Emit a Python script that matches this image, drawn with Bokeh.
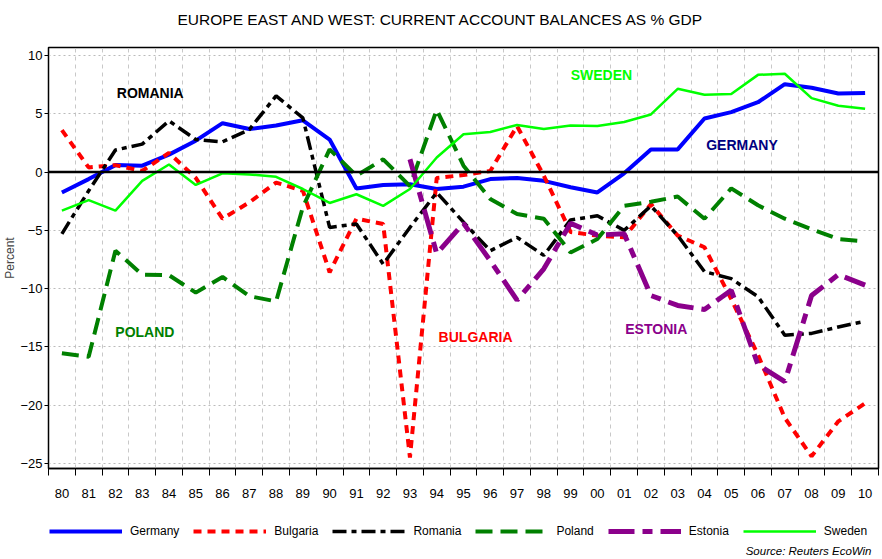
from bokeh.plotting import figure
from bokeh.layouts import column
from bokeh.models import (Range1d, FixedTicker, Span, Label, Legend, LegendItem)
from bokeh.embed import file_html
from bokeh.resources import INLINE

years = list(range(1980, 2011))
year_labels = ["80", "81", "82", "83", "84", "85", "86", "87", "88", "89",
               "90", "91", "92", "93", "94", "95", "96", "97", "98", "99",
               "00", "01", "02", "03", "04", "05", "06", "07", "08", "09", "10"]

germany = [-1.75, -0.6, 0.6, 0.55, 1.5, 2.7, 4.2, 3.7, 4.0, 4.45,
           2.8, -1.4, -1.1, -1.05, -1.45, -1.25, -0.6, -0.5, -0.75, -1.3,
           -1.75, -0.1, 1.95, 1.95, 4.6, 5.15, 6.0, 7.55, 7.25, 6.75, 6.8]
bulgaria = [3.6, 0.4, 0.6, 0.1, 1.65, -0.5, -4.0, -2.6, -0.9, -1.6,
            -8.6, -4.0, -4.45, -24.5, -0.5, -0.25, 0.1, 3.95, -0.3, -5.15,
            -5.45, -5.6, -2.75, -5.45, -6.45, -10.9, -15.7, -21.1, -24.4, -21.4, -19.85]
romania = [-5.3, -1.6, 1.9, 2.4, 4.4, 2.8, 2.6, 3.65, 6.55, 4.65,
           -4.75, -4.45, -7.9, -4.75, -1.75, -4.3, -6.75, -5.6, -7.15, -4.1,
           -3.75, -5.0, -2.9, -5.45, -8.55, -9.15, -10.7, -14.0, -13.85, -13.3, -12.8]
poland = [-15.55, -15.85, -6.75, -8.8, -8.85, -10.35, -9.0, -10.65, -11.1, -3.0,
          1.95, -0.3, 1.1, -1.2, 5.35, 0.55, -2.3, -3.6, -4.0, -6.9,
          -5.75, -2.9, -2.55, -2.1, -4.0, -1.4, -2.85, -4.0, -4.9, -5.75, -5.95]
estonia_years = list(range(1993, 2011))
estonia = [1.1, -7.0, -4.4, -7.6, -11.0, -8.3, -4.4,
           -5.4, -5.3, -10.6, -11.45, -11.8, -10.15, -16.55, -18.0, -10.6, -8.8, -9.7]
sweden = [-3.3, -2.4, -3.3, -0.75, 0.65, -1.1, -0.1, -0.2, -0.4, -1.45,
          -2.65, -1.9, -2.9, -1.45, 1.25, 3.25, 3.45, 4.05, 3.7, 4.0,
          3.95, 4.3, 4.95, 7.15, 6.65, 6.7, 8.35, 8.45, 6.35, 5.7, 5.45]

y_ticks = [-25, -20, -15, -10, -5, 0, 5, 10]

series_names = ["Germany", "Bulgaria", "Romania", "Poland", "Estonia", "Sweden"]
series_colors = ["#0000FF", "#FF0000", "black", "#008000", "#8B008B", "#00FF00"]
series_widths = [4, 4, 3.5, 4, 5, 2.5]
series_dashes = ["solid", "8 6", "14 5 5 5", "17 8", "26 8 10 8", "solid"]
series_x = [years, years, years, years, estonia_years, years]
series_y = [germany, bulgaria, romania, poland, estonia, sweden]

TITLE = "EUROPE EAST AND WEST: CURRENT ACCOUNT BALANCES AS % GDP"
SOURCE = "Source: Reuters EcoWin"
FONT = "Liberation Sans"


def strip(height):
    f = figure(width=880, height=height, output_backend="svg", toolbar_location=None,
               title=None, x_range=Range1d(1979.5, 2010.5), y_range=Range1d(100, 149),
               x_axis_type=None, y_axis_type=None,
               min_border_left=0, min_border_right=0, min_border_top=0, min_border_bottom=0)
    f.outline_line_color = None
    f.xgrid.visible = False
    f.ygrid.visible = False
    f.background_fill_color = "white"
    f.border_fill_color = "white"
    return f


# title strip
t = strip(30)
t.add_layout(Label(x=393, y=11, x_units="screen", y_units="screen", text=TITLE,
                   text_font=FONT, text_font_size="15.5px", text_color="black",
                   text_align="center", text_baseline="middle"))

# main chart
p = figure(width=880, height=478, output_backend="svg", toolbar_location=None, title=None,
           x_range=Range1d(1979.5, 2010.5), y_range=Range1d(-25.45, 10.7),
           min_border_left=47, min_border_right=2, min_border_top=17, min_border_bottom=40)
p.background_fill_color = "white"
p.border_fill_color = "white"
p.outline_line_color = "black"
p.outline_line_width = 1.5

xa = p.xaxis[0]
xa.ticker = FixedTicker(ticks=years, minor_ticks=[y + 0.5 for y in range(1979, 2011)])
xa.major_label_overrides = {y: l for y, l in zip(years, year_labels)}
xa.major_tick_out = 0
xa.major_tick_in = 0
xa.minor_tick_out = 7
xa.minor_tick_in = 0
xa.minor_tick_line_color = "black"
xa.major_label_standoff = 13
xa.major_label_text_font = FONT
xa.major_label_text_font_size = "13px"
xa.major_label_text_color = "black"
xa.axis_line_color = "black"
xa.axis_line_width = 1.5

ya = p.yaxis[0]
ya.ticker = FixedTicker(ticks=y_ticks, minor_ticks=[])
ya.major_tick_out = 4
ya.major_tick_in = 0
ya.major_label_standoff = 2
ya.major_label_text_font = FONT
ya.major_label_text_font_size = "13px"
ya.major_label_text_color = "black"
ya.axis_label = "Percent"
ya.axis_label_text_font = FONT
ya.axis_label_text_font_style = "normal"
ya.axis_label_text_font_size = "12px"
ya.axis_label_standoff = 0
ya.axis_line_color = "black"

p.xgrid.ticker = FixedTicker(ticks=[y + 0.5 for y in range(1979, 2011)])
p.xgrid.grid_line_color = "#C8C8C8"
p.xgrid.grid_line_dash = "4 4"
p.ygrid.grid_line_color = "#BBBBBB"
p.ygrid.grid_line_dash = "2 3"

p.add_layout(Span(location=0, dimension="width", line_color="black", line_width=2.5))

for xs, ys, c, w, d in zip(series_x, series_y, series_colors, series_widths, series_dashes):
    p.line(xs, ys, line_color=c, line_width=w, line_dash=d)

lab_text = ["ROMANIA", "SWEDEN", "GERMANY", "POLAND", "BULGARIA", "ESTONIA"]
lab_x = [1983.3, 2000.15, 2005.4, 1983.1, 1995.45, 2002.2]
lab_y = [6.8, 8.3, 2.35, -13.7, -14.2, -13.5]
lab_color = ["black", "#00FF00", "#000080", "#008000", "#FF0000", "#8B008B"]
for tx, x, y, c in zip(lab_text, lab_x, lab_y, lab_color):
    p.add_layout(Label(x=x, y=y, text=tx, text_color=c, text_font=FONT,
                       text_font_style="bold", text_font_size="14px",
                       text_align="center", text_baseline="middle"))

# legend strip (series drawn off-view so the legend samples use real renderers)
q = strip(49)
items = []
for n, xs, ys, c, w, d in zip(series_names, series_x, series_y, series_colors,
                              series_widths, series_dashes):
    r = q.line(xs, ys, line_color=c, line_width=w, line_dash=d)
    items.append(LegendItem(label=n, renderers=[r]))

legend = Legend(items=items, orientation="horizontal", location=(1, 19))
legend.glyph_width = 73
legend.glyph_height = 14
legend.label_standoff = 8
legend.spacing = 14
legend.padding = 2
legend.margin = 0
legend.border_line_color = None
legend.background_fill_alpha = 0
legend.label_text_font = FONT
legend.label_text_font_size = "12px"
legend.label_text_color = "black"
q.add_layout(legend)

q.add_layout(Label(x=823, y=7, x_units="screen", y_units="screen", text=SOURCE,
                   text_font=FONT, text_font_style="italic", text_font_size="11.5px",
                   text_color="black", text_align="right", text_baseline="middle"))

layout = column(t, p, q, spacing=0)
open("out.html", "w").write(file_html(layout, INLINE))
